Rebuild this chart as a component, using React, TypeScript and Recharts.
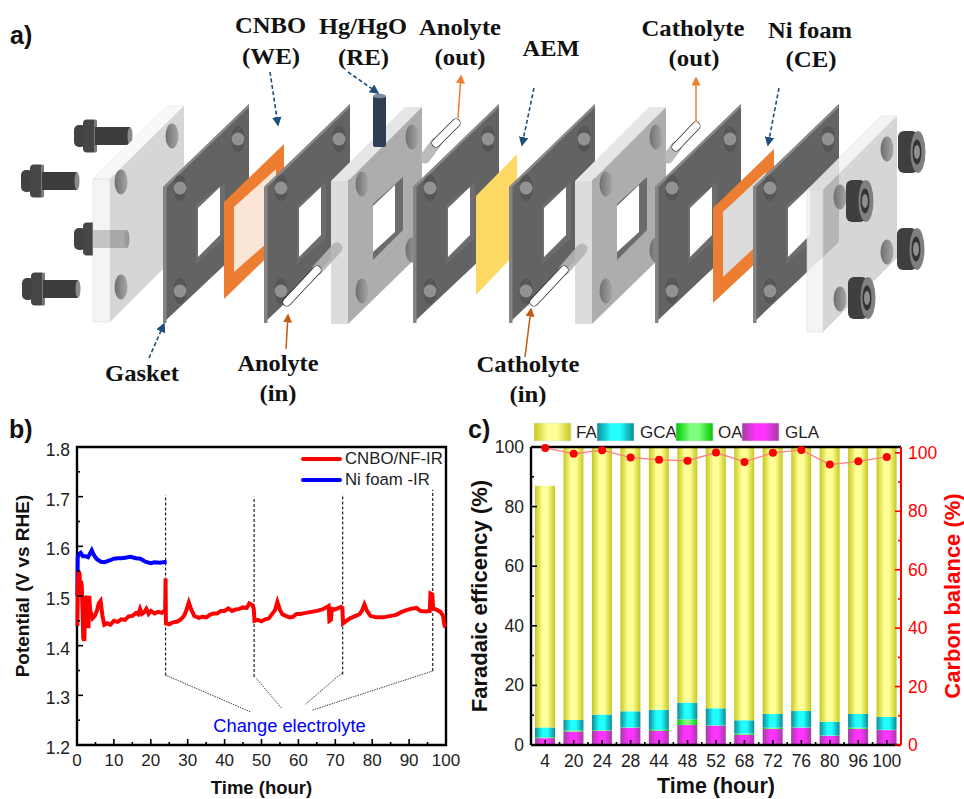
import React from 'react';
import {
  ComposedChart, LineChart, Line, Bar, XAxis, YAxis, Legend, ReferenceLine, ReferenceArea,
} from 'recharts';

const SANS = '"Liberation Sans", Arial, sans-serif';
const SERIF = '"Liberation Serif", "Times New Roman", serif';

// panel b
const timeTicks = [0, 5, 10, 15, 20, 25, 30, 35, 40, 45, 50, 55, 60, 65, 70, 75, 80, 85, 90, 95, 100];
const potentialTicks = [1.2, 1.25, 1.3, 1.35, 1.4, 1.45, 1.5, 1.55, 1.6, 1.65, 1.7, 1.75, 1.8];

const cnboCurve = [
  [0.1, 1.44], [0.2, 1.5], [0.4, 1.55], [0.7, 1.545], [0.9, 1.5], [1.1, 1.53], [1.3, 1.52], [1.5, 1.47], [1.7, 1.415], [2.0, 1.41],
  [2.2, 1.5], [2.5, 1.495], [2.8, 1.5], [3.1, 1.435], [3.3, 1.5], [3.6, 1.47], [4.2, 1.455], [4.8, 1.46], [5.4, 1.47], [5.9, 1.485],
  [6.4, 1.49], [6.9, 1.46], [7.4, 1.442], [8.2, 1.445], [9.0, 1.442], [10, 1.45], [11, 1.448], [12, 1.453], [13, 1.452], [14, 1.459],
  [15, 1.46], [16, 1.466], [16.6, 1.463], [17.1, 1.474], [17.6, 1.464], [18.2, 1.467], [18.8, 1.474], [19.4, 1.464], [20, 1.47], [21, 1.465],
  [22, 1.468], [23, 1.466], [23.9, 1.472], [24, 1.535], [24.1, 1.445], [25, 1.443], [26, 1.447], [27, 1.448], [28, 1.452], [29, 1.46],
  [29.6, 1.47], [30.3, 1.487], [31, 1.472], [31.8, 1.46], [33, 1.456], [34, 1.458], [35, 1.457], [36, 1.462], [37, 1.465], [38, 1.465],
  [39, 1.47], [40, 1.47], [41, 1.475], [42, 1.47], [43, 1.473], [44, 1.474], [45, 1.477], [46, 1.476], [46.7, 1.485], [47.5, 1.482],
  [47.9, 1.475], [48.1, 1.45], [49, 1.452], [50, 1.449], [51, 1.453], [52, 1.455], [53, 1.465], [53.7, 1.472], [54.3, 1.488], [55, 1.472],
  [55.7, 1.463], [56.6, 1.46], [57.6, 1.457], [58.5, 1.458], [59.5, 1.464], [60.5, 1.464], [62, 1.466], [63.5, 1.468], [65, 1.47], [66.5, 1.473],
  [68.2, 1.48], [68.4, 1.45], [68.8, 1.452], [69.1, 1.474], [70, 1.473], [71.5, 1.478], [71.9, 1.476], [72.1, 1.445], [73, 1.45], [74, 1.455],
  [75.5, 1.46], [76.5, 1.463], [77.2, 1.47], [77.9, 1.483], [78.6, 1.47], [79.5, 1.46], [81, 1.457], [83, 1.457], [85, 1.46], [86.5, 1.462],
  [88, 1.468], [89.5, 1.472], [91, 1.475], [92, 1.476], [93, 1.47], [94.5, 1.469], [95.6, 1.47], [95.8, 1.505], [96.3, 1.503], [96.5, 1.475],
  [97.5, 1.472], [98.5, 1.468], [99.2, 1.46], [99.6, 1.44], [100, 1.438],
];
const nickelCurve = [
  [0.1, 1.5], [0.2, 1.578], [0.6, 1.585], [1.0, 1.587], [1.6, 1.58], [2.4, 1.58], [3.0, 1.578], [3.5, 1.585], [4.0, 1.592], [4.6, 1.582],
  [5.4, 1.574], [6.5, 1.569], [7.5, 1.568], [9, 1.572], [10, 1.575], [11, 1.576], [12, 1.576], [13, 1.577], [14.5, 1.579], [16, 1.576],
  [17.2, 1.575], [18.5, 1.569], [20, 1.566], [21, 1.568], [22.5, 1.567], [24.3, 1.569],
];
const changeMarks = [
  { t: 24, low: 1.34, high: 1.703 },
  { t: 48, low: 1.337, high: 1.7 },
  { t: 72, low: 1.342, high: 1.705 },
  { t: 96.4, low: 1.349, high: 1.714 },
];
const changeLeaders = [
  [[24.2, 1.34], [47.2, 1.266]],
  [[48.6, 1.334], [55.6, 1.273]],
  [[71.8, 1.345], [61.9, 1.282]],
  [[96.4, 1.349], [63.7, 1.27]],
];

// panel c
const samples = ['4', '20', '24', '28', '44', '48', '52', '68', '72', '76', '80', '96', '100'];
const gla = [2.3, 4.5, 4.8, 5.8, 4.7, 6.7, 6.5, 3.4, 5.4, 5.8, 3.1, 5.4, 5.0];
const oa = [0.3, 0.4, 0.2, 0.1, 0.4, 1.9, 0.1, 0.4, 0.4, 0.1, 0.1, 0.4, 0.1];
const gca = [3.3, 3.5, 5.2, 5.4, 6.7, 5.6, 5.7, 4.5, 4.6, 5.5, 4.6, 4.6, 4.3];
const fa = [81.1, 91.6, 89.8, 88.7, 88.2, 85.8, 87.7, 91.7, 89.6, 88.6, 92.2, 89.6, 90.6];
const carbonBalance = [101.7, 99.7, 100.9, 98.4, 97.6, 97.3, 100.1, 96.9, 100, 101, 96, 97.1, 98.6];
const efficiencyTicks = [0, 10, 20, 30, 40, 50, 60, 70, 80, 90, 100];

const productRows = samples.map((time, i) => ({
  time, gla: gla[i], oa: oa[i], gca: gca[i], fa: fa[i], carbon: carbonBalance[i],
}));

const barFills = [
  { id: 'gradFA', edge: '#c8c81e', mid: '#ffff99' },
  { id: 'gradGCA', edge: '#0a8c96', mid: '#22ffff' },
  { id: 'gradOA', edge: '#00c800', mid: '#7cff7c' },
  { id: 'gradGLA', edge: '#a23ca2', mid: '#ff33ff' },
];

const barLegend = [
  { label: 'FA', fill: 'gradFA', left: 74, textLeft: 116 },
  { label: 'GCA', fill: 'gradGCA', left: 137, textLeft: 180 },
  { label: 'OA', fill: 'gradOA', left: 216, textLeft: 258 },
  { label: 'GLA', fill: 'gradGLA', left: 282, textLeft: 325 },
];

// bottom/left/right ticks are drawn inward, so the labels sit on the outer side by hand
function BottomTick({ x, y, payload, major, size = 17 }: any) {
  const isMajor = major(payload.value);
  return (
    <g>
      <line x1={x} x2={x} y1={y} y2={y - (isMajor ? 6 : 3)} stroke="#000" strokeWidth={1.6} />
      {isMajor && (
        <text x={x} y={y + 21} textAnchor="middle" fontSize={size} fontFamily={SANS} fill="#222">{payload.value}</text>
      )}
    </g>
  );
}

function BandTick({ x, y, payload, index }: any) {
  return (
    <g>
      <line x1={x} x2={x} y1={y} y2={y - 5} stroke="#000" strokeWidth={1.6} />
      {index > 0 && <line x1={x - 14.2} x2={x - 14.2} y1={y} y2={y - 3} stroke="#000" strokeWidth={1.6} />}
      <text x={x} y={y + 21.5} textAnchor="middle" fontSize={17.5} fontFamily={SANS} fill="#222">{payload.value}</text>
    </g>
  );
}

function SideTick({ x, y, payload, major, format, color = '#000', side = 'left', shift = 0 }: any) {
  const isMajor = major(payload.value);
  const dir = side === 'left' ? 1 : -1;
  return (
    <g>
      <line x1={x} x2={x + dir * (isMajor ? 6 : 3)} y1={y} y2={y} stroke={color} strokeWidth={1.6} />
      {isMajor && (
        <text x={x - dir * 7} y={y + 6 + shift} textAnchor={side === 'left' ? 'end' : 'start'}
          fontSize={17.5} fontFamily={SANS} fill={color === '#000' ? '#222' : color}>
          {format(payload.value)}
        </text>
      )}
    </g>
  );
}

function PotentialLegend() {
  const rows = [
    { label: 'CNBO/NF-IR', color: '#ff0000', top: 0 },
    { label: 'Ni foam -IR', color: '#0000ff', top: 21 },
  ];
  return (
    <div style={{ position: 'relative', width: 170, height: 44 }}>
      {rows.map((r) => (
        <div key={r.label} style={{ position: 'absolute', top: r.top, left: 0, height: 20, whiteSpace: 'nowrap' }}>
          <span style={{ position: 'absolute', left: 0, top: 8, width: 41, height: 4, background: r.color, borderRadius: 2 }} />
          <span style={{ position: 'absolute', left: 44, top: 0, fontFamily: SANS, fontSize: 16.8, color: '#222', lineHeight: '20px' }}>{r.label}</span>
        </div>
      ))}
    </div>
  );
}

function ProductLegend() {
  return (
    <svg width={400} height={24} style={{ display: 'block', overflow: 'visible' }}>
      {barLegend.map((item) => (
        <g key={item.label}>
          <rect x={item.left - 74} y={1} width={37} height={18} fill={`url(#${item.fill})`} stroke="#dcdce8" strokeWidth={0.6} />
          <text x={item.textLeft - 74} y={16} fontSize={17} fontFamily={SANS} fill="#222">{item.label}</text>
        </g>
      ))}
    </svg>
  );
}

function PotentialChart() {
  const red = cnboCurve.map(([t, v]) => ({ t, v }));
  const blue = nickelCurve.map(([t, v]) => ({ t, v }));
  return (
    <LineChart width={472} height={369} margin={{ top: 17, right: 26, bottom: 0, left: 0 }} style={{ fontFamily: SANS }}>
      <XAxis
        type="number" dataKey="t" domain={[0, 100]} ticks={timeTicks} interval={0} tickLine={false} tickSize={0} tickMargin={0}
        axisLine={false} height={54}
        tick={(p: any) => <BottomTick {...p} major={(v: number) => v % 10 === 0} />}
        label={{ value: 'Time (hour)', position: 'insideBottom', offset: 5, style: { fontSize: 18.5, fontWeight: 700, fill: '#111', fontFamily: SANS } }}
      />
      <YAxis
        type="number" domain={[1.2, 1.8]} ticks={potentialTicks} interval={0} tickLine={false} tickSize={0} tickMargin={0}
        axisLine={false} width={77}
        tick={(p: any) => (
          <SideTick {...p} shift={3} major={(v: number) => Math.round(v * 100) % 10 === 0} format={(v: number) => v.toFixed(1)} />
        )}
        label={{ value: 'Potential (V vs RHE)', angle: -90, position: 'insideLeft', dx: 17.5, dy: -10, style: { textAnchor: 'middle', fontSize: 19, fontWeight: 700, fill: '#111', fontFamily: SANS } }}
      />
      {changeMarks.map((m) => (
        <ReferenceLine key={m.t} segment={[{ x: m.t, y: m.low }, { x: m.t, y: m.high }]} stroke="#222" strokeWidth={1.2} strokeDasharray="3 2" />
      ))}
      {changeLeaders.map((s, i) => (
        <ReferenceLine key={i} segment={[{ x: s[0][0], y: s[0][1] }, { x: s[1][0], y: s[1][1] }]} stroke="#444" strokeWidth={1} strokeDasharray="1.5 1" />
      ))}
      <Line data={blue} dataKey="v" name="Ni foam -IR" stroke="#0000ff" strokeWidth={4} dot={false} type="linear" isAnimationActive={false} />
      <Line data={red} dataKey="v" name="CNBO/NF-IR" stroke="#ff0000" strokeWidth={4} dot={false} type="linear" isAnimationActive={false} />
      <ReferenceArea x1={0} x2={100} y1={1.2} y2={1.8} fill="none" fillOpacity={0} stroke="#000" strokeWidth={2.4} />
      <Legend layout="vertical" align="center" verticalAlign="middle" content={() => <PotentialLegend />}
        wrapperStyle={{ left: 301, top: 19, width: 170, height: 44 }} />
    </LineChart>
  );
}

function ProductChart() {
  return (
    <ComposedChart width={504} height={369} data={productRows} margin={{ top: 17, right: 0, bottom: 0, left: 0 }} style={{ fontFamily: SANS }} barCategoryGap={0}>
      <defs>
        {barFills.map((g) => (
          <linearGradient key={g.id} id={g.id} x1="0" y1="0" x2="1" y2="0">
            <stop offset="0%" stopColor={g.edge} />
            <stop offset="38%" stopColor={g.mid} />
            <stop offset="62%" stopColor={g.mid} />
            <stop offset="100%" stopColor={g.edge} />
          </linearGradient>
        ))}
      </defs>
      <XAxis
        dataKey="time" type="category" interval={0} tickLine={false} tickSize={0} tickMargin={0} height={54}
        axisLine={{ stroke: '#000', strokeWidth: 2.4 }}
        tick={(p: any) => <BandTick {...p} />}
        label={{ value: 'Time (hour)', position: 'insideBottom', offset: 6, style: { fontSize: 21.5, fontWeight: 700, fill: '#111', fontFamily: SANS } }}
      />
      <YAxis
        yAxisId="left" type="number" domain={[0, 100]} ticks={efficiencyTicks} interval={0} tickLine={false} tickSize={0} tickMargin={0}
        axisLine={{ stroke: '#000', strokeWidth: 2.4 }} width={71}
        tick={(p: any) => <SideTick {...p} major={(v: number) => v % 20 === 0} format={(v: number) => v} />}
        label={{ value: 'Faradaic efficency (%)', angle: -90, position: 'insideLeft', dx: 14, style: { textAnchor: 'middle', fontSize: 22, fontWeight: 700, fill: '#111', fontFamily: SANS } }}
      />
      <YAxis
        yAxisId="right" orientation="right" type="number" domain={[0, 102]} ticks={efficiencyTicks} interval={0} tickLine={false} tickSize={0} tickMargin={0}
        axisLine={{ stroke: '#ff0000', strokeWidth: 2 }} width={63}
        tick={(p: any) => <SideTick {...p} side="right" color="#ff0000" major={(v: number) => v % 20 === 0} format={(v: number) => v} />}
        label={{ value: 'Carbon balance (%)', angle: -90, position: 'insideRight', dx: -7, style: { textAnchor: 'middle', fontSize: 22, fontWeight: 700, fill: '#ff0000', fontFamily: SANS } }}
      />
      <Bar yAxisId="left" dataKey="gla" name="GLA" stackId="fe" barSize={20} fill="url(#gradGLA)" isAnimationActive={false} />
      <Bar yAxisId="left" dataKey="oa" name="OA" stackId="fe" barSize={20} fill="url(#gradOA)" isAnimationActive={false} />
      <Bar yAxisId="left" dataKey="gca" name="GCA" stackId="fe" barSize={20} fill="url(#gradGCA)" isAnimationActive={false} />
      <Bar yAxisId="left" dataKey="fa" name="FA" stackId="fe" barSize={20} fill="url(#gradFA)" isAnimationActive={false} />
      <ReferenceLine yAxisId="left" y={100} stroke="#000" strokeWidth={2.4} />
      <Line yAxisId="right" dataKey="carbon" name="Carbon balance" stroke="#ff8080" strokeWidth={1.3} type="linear"
        dot={{ r: 4, fill: '#ff0000', stroke: '#ff0000', strokeWidth: 0 }} isAnimationActive={false} />
      <Legend layout="vertical" align="center" verticalAlign="middle" content={() => <ProductLegend />}
        wrapperStyle={{ left: 74, top: -8, width: 400, height: 24 }} />
    </ComposedChart>
  );
}

// exploded cell drawing of panel a
const darkPlateLefts = [163, 264, 413, 509, 655, 753];
const callouts = [
  { text: 'CNBO', x: 270.5, y: 33, w: 71 }, { text: '(WE)', x: 271, y: 64, w: 58 },
  { text: 'Hg/HgO', x: 363, y: 34, w: 88 }, { text: '(RE)', x: 363.5, y: 65, w: 51 },
  { text: 'Anolyte', x: 460, y: 35, w: 82 }, { text: '(out)', x: 460, y: 65, w: 51 },
  { text: 'AEM', x: 551, y: 56, w: 57 },
  { text: 'Catholyte', x: 693, y: 36, w: 103 }, { text: '(out)', x: 694, y: 66, w: 51 },
  { text: 'Ni foam', x: 810, y: 37.5, w: 84 }, { text: '(CE)', x: 811, y: 67, w: 51 },
  { text: 'Gasket', x: 142, y: 381, w: 74 },
  { text: 'Anolyte', x: 278, y: 371, w: 81 }, { text: '(in)', x: 278, y: 401, w: 37 },
  { text: 'Catholyte', x: 528, y: 372, w: 103 }, { text: '(in)', x: 528, y: 402, w: 37 },
];
const dashedArrows = [
  [270, 72, 278, 125], [348, 72, 378, 93], [534, 88, 522, 145], [779, 88, 768, 145], [149, 358, 164, 324],
];
const solidArrows = [
  [458, 118, 461, 76, '#ed7d31'], [696, 122, 696, 78, '#ed7d31'], [286, 349, 288, 315, '#c55a11'], [525, 357, 531, 309, '#c55a11'],
];

const poly = (pts: number[][]) => pts.map((p) => p.join(',')).join(' ');

function Hole({ cx, cy }: { cx: number; cy: number }) {
  return <ellipse cx={cx} cy={cy} rx={6.5} ry={12.5} fill="url(#holeGrad)" />;
}

function PlateHole({ cx, cy }: { cx: number; cy: number }) {
  return (
    <g>
      <ellipse cx={cx} cy={cy} rx={7} ry={13} fill="#565656" />
      <circle cx={cx} cy={cy} r={6.5} fill="#929292" />
    </g>
  );
}

function DarkPlate({ x }: { x: number }) {
  return (
    <g>
      <polygon points={poly([[x, 187], [x + 86, 104], [x + 86, 242], [x, 323]])} fill="#636363" />
      <rect x={x} y={187} width={3.5} height={136} fill="#848484" />
      <polygon points={poly([[x, 187], [x + 86, 104], [x + 86, 107], [x + 3.5, 187]])} fill="#8a8a8a" />
      <polygon points={poly([[x + 33, 205], [x + 62, 182], [x + 62, 238], [x + 33, 264]])} fill="#706c6c" />
      <polygon points={poly([[x + 35, 208], [x + 57, 187], [x + 57, 235], [x + 35, 257]])} fill="#fff" />
      <PlateHole cx={x + 17} cy={188} />
      <PlateHole cx={x + 75} cy={139} />
      <PlateHole cx={x + 17} cy={291} />
    </g>
  );
}

function GreyPlate({ x }: { x: number }) {
  return (
    <g>
      <polygon points={poly([[x, 181], [x + 17, 181], [x + 91, 107], [x + 74, 107]])} fill="#e6e6e6" />
      <rect x={x} y={181} width={17} height={143} fill="#dcdcdc" />
      <polygon points={poly([[x + 17, 181], [x + 91, 107], [x + 91, 252], [x + 17, 324]])} fill="#adadad" />
      <polygon points={poly([[x + 42, 204], [x + 72, 177], [x + 72, 230], [x + 42, 260]])} fill="#6f6b6b" />
      <polygon points={poly([[x + 42, 206], [x + 64, 185], [x + 64, 232], [x + 42, 252]])} fill="#fff" />
      <Hole cx={x + 31} cy={184} />
      <Hole cx={x + 81} cy={137} />
      <Hole cx={x + 31} cy={291} />
      <Hole cx={x + 81} cy={250} />
    </g>
  );
}

function Bolt({ x, y, ghost }: { x: number; y: number; ghost?: boolean }) {
  return (
    <g>
      <rect x={x} y={y - 11} width={12} height={22} rx={5} fill="#424242" />
      <rect x={x + 9} y={y - 16.5} width={14} height={33} rx={4} fill="#464646" />
      <rect x={x + 20} y={y - 16.5} width={3} height={33} rx={1.5} fill="#7a7a7a" />
      <rect x={x + 21} y={y - 9} width={35} height={18} fill={ghost ? '#bdbdbd' : '#3c3c3c'} />
      <ellipse cx={x + 56} cy={y} rx={2.5} ry={9} fill={ghost ? '#a8a8a8' : '#8a8a8a'} />
    </g>
  );
}

function Ring({ cx, cy }: { cx: number; cy: number }) {
  return (
    <g>
      <rect x={cx - 20} y={cy - 21} width={20} height={42} rx={6} fill="#3f3f3f" />
      <ellipse cx={cx} cy={cy} rx={7.5} ry={21} fill="#808080" />
      <ellipse cx={cx - 1} cy={cy} rx={4.5} ry={12.5} fill="#333" />
      <ellipse cx={cx - 1} cy={cy} rx={3} ry={7} fill="#8f8f8f" />
    </g>
  );
}

function Tube({ x1, y1, x2, y2, x3, y3 }: any) {
  return (
    <g>
      <line x1={x2} y1={y2} x2={x3} y2={y3} stroke="#b4b4b4" strokeWidth={11} strokeLinecap="round" opacity={0.9} />
      <line x1={x1} y1={y1} x2={x2} y2={y2} stroke="#222" strokeWidth={9} strokeLinecap="round" />
      <line x1={x1} y1={y1} x2={x2} y2={y2} stroke="#fff" strokeWidth={7.6} strokeLinecap="round" />
    </g>
  );
}

function CellSchematic() {
  return (
    <svg width={964} height={410} style={{ position: 'absolute', left: 0, top: 0 }}>
      <defs>
        <linearGradient id="holeGrad" x1="0" y1="0" x2="1" y2="0">
          <stop offset="0%" stopColor="#6f6f6f" />
          <stop offset="100%" stopColor="#a6a6a6" />
        </linearGradient>
        <marker id="navyHead" markerWidth="7" markerHeight="7" refX="5" refY="3" orient="auto">
          <path d="M0,0 L6,3 L0,6 Z" fill="#1f4e79" />
        </marker>
        <marker id="orangeHead" markerWidth="7" markerHeight="7" refX="5" refY="3" orient="auto">
          <path d="M0,0 L6,3 L0,6 Z" fill="#ed7d31" />
        </marker>
        <marker id="rustHead" markerWidth="7" markerHeight="7" refX="5" refY="3" orient="auto">
          <path d="M0,0 L6,3 L0,6 Z" fill="#c55a11" />
        </marker>
      </defs>

      <Bolt x={74} y={136} />
      <Bolt x={21} y={181} />
      <Bolt x={22} y={289} />
      <Bolt x={74} y={239} />

      {/* left end plate */}
      <polygon points={poly([[93, 179], [110, 179], [184, 106], [167, 106]])} fill="#f8f8f8" stroke="#e2e2e2" strokeWidth={0.6} />
      <polygon points={poly([[110, 179], [184, 106], [184, 248], [110, 322]])} fill="#d6d6d6" />
      <rect x={93} y={179} width={17} height={143} fill="#f4f4f4" stroke="#dedede" strokeWidth={0.6} />
      <rect x={93} y={230} width={34} height={18} fill="#c4c4c4" />
      <rect x={110} y={230} width={17} height={18} fill="#a9a9a9" />
      <ellipse cx={127} cy={239} rx={2.5} ry={9} fill="#9a9a9a" />
      <Hole cx={121} cy={182} />
      <Hole cx={172} cy={136} />
      <Hole cx={121} cy={287} />

      <DarkPlate x={darkPlateLefts[0]} />

      {/* CNBO electrode */}
      <polygon points={poly([[224, 202], [284, 144], [284, 241], [224, 299]])} fill="#ed7d31" />
      <polygon points={poly([[234, 207], [276, 169], [276, 235], [234, 272]])} fill="#fbe5d6" />

      <DarkPlate x={darkPlateLefts[1]} />
      <GreyPlate x={331} />
      <Tube x1={287} y1={302} x2={317} y2={270} x3={337} y3={248} />

      <rect x={373} y={96} width={13} height={51} rx={2} fill="#2f3e55" />
      <ellipse cx={379.5} cy={96} rx={6.5} ry={2.2} fill="#7f8a99" />

      <Tube x1={456} y1={123} x2={436} y2={143} x3={425} y3={158} />
      <DarkPlate x={darkPlateLefts[2]} />

      {/* membrane */}
      <polygon points={poly([[476, 196], [517, 154], [517, 252], [476, 295]])} fill="#ffd966" />

      <DarkPlate x={darkPlateLefts[3]} />
      <GreyPlate x={575} />
      <Tube x1={534} y1={302} x2={564} y2={270} x3={582} y3={249} />

      <Tube x1={696} y1={126} x2={676} y2={147} x3={668} y3={158} />
      <DarkPlate x={darkPlateLefts[4]} />

      {/* Ni foam electrode */}
      <polygon points={poly([[713, 208], [774, 149], [774, 246], [713, 303]])} fill="#ed7d31" />
      <polygon points={poly([[723, 212], [766, 172], [766, 237], [723, 277]])} fill="#dcdcdc" />

      <DarkPlate x={darkPlateLefts[5]} />

      {/* right end plate, see-through over the last gasket */}
      <polygon points={poly([[807, 190], [823, 190], [897, 116], [881, 116]])} fill="#f2f2f2" stroke="#dedede" strokeWidth={0.6} opacity={0.85} />
      <polygon points={poly([[823, 190], [897, 116], [897, 258], [823, 332]])} fill="#cbcbcb" opacity={0.79} />
      <rect x={807} y={190} width={16} height={142} fill="#f3f3f3" stroke="#dedede" strokeWidth={0.6} opacity={0.88} />
      <Hole cx={887} cy={149} />
      <Hole cx={840} cy={197} />
      <Hole cx={887} cy={252} />
      <Hole cx={840} cy={299} />
      <Ring cx={918} cy={152} />
      <Ring cx={866} cy={201} />
      <Ring cx={917} cy={249} />
      <Ring cx={868} cy={298} />

      {dashedArrows.map((a, i) => (
        <line key={i} x1={a[0]} y1={a[1]} x2={a[2]} y2={a[3]} stroke="#1f4e79" strokeWidth={1.6} strokeDasharray="4 2.5" markerEnd="url(#navyHead)" />
      ))}
      {solidArrows.map((a, i) => (
        <line key={i} x1={a[0] as number} y1={a[1] as number} x2={a[2] as number} y2={a[3] as number} stroke={a[4] as string} strokeWidth={1.5}
          markerEnd={a[4] === '#ed7d31' ? 'url(#orangeHead)' : 'url(#rustHead)'} />
      ))}

      {callouts.map((c, i) => (
        <text key={i} x={c.x} y={c.y} textAnchor="middle" fontFamily={SERIF} fontWeight={700} fontSize={24} fill="#111"
          textLength={c.w} lengthAdjust="spacingAndGlyphs">{c.text}</text>
      ))}
      <text x={10} y={44} fontFamily={SANS} fontWeight={700} fontSize={25} fill="#111">a)</text>
    </svg>
  );
}

export default function App() {
  const panel = (left: number): React.CSSProperties => ({ position: 'absolute', left, top: 430 });
  const tag: React.CSSProperties = { position: 'absolute', top: 411, fontFamily: SANS, fontWeight: 700, fontSize: 25, color: '#111', lineHeight: '36px' };
  return (
    <div style={{ position: 'absolute', left: 0, top: 0, width: 964, height: 799, background: '#fff', overflow: 'hidden' }}>
      <CellSchematic />
      <div style={panel(0)}><PotentialChart /></div>
      <div style={panel(460)}><ProductChart /></div>
      <div style={{ ...tag, left: 9 }}>b)</div>
      <div style={{ ...tag, left: 468 }}>c)</div>
      <div style={{ position: 'absolute', left: 193, top: 716, width: 193, textAlign: 'center', fontFamily: SANS, fontSize: 18.3, color: '#0000ff', lineHeight: '20px', whiteSpace: 'nowrap' }}>
        Change electrolyte
      </div>
    </div>
  );
}
